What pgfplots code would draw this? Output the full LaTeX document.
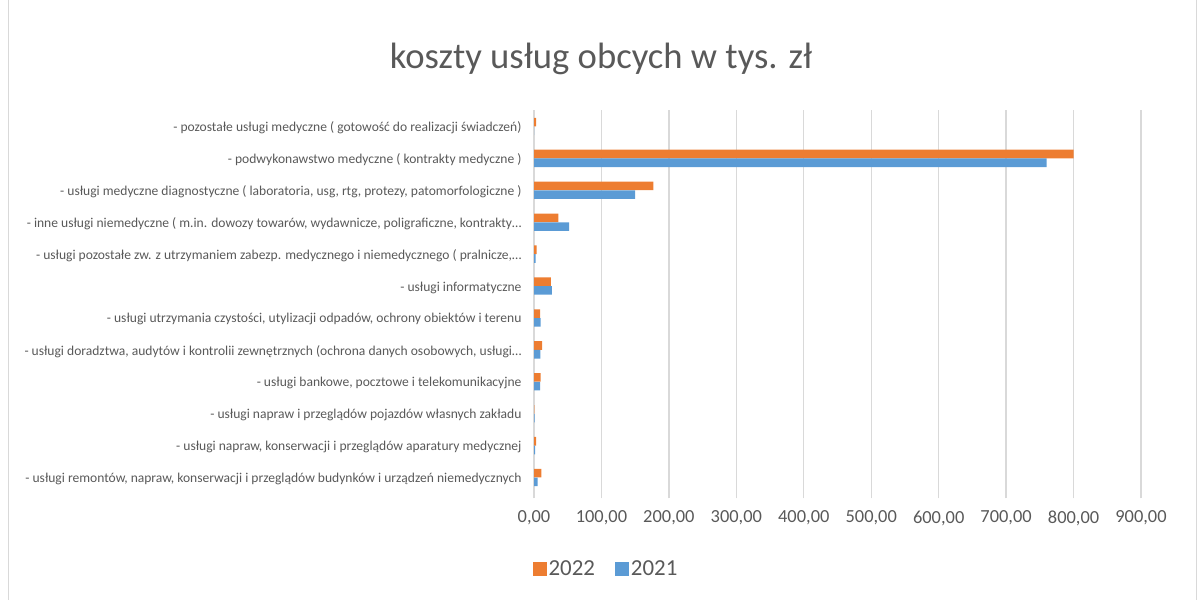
\documentclass[border=0pt]{standalone}
\usepackage{fontspec}
\setmainfont{Carlito}
\usepackage{pgfplots}
\pgfplotsset{compat=1.18}
\definecolor{cOr}{HTML}{ED7D31}
\definecolor{cBl}{HTML}{5B9BD5}
\definecolor{cTx}{HTML}{595959}
\definecolor{cGr}{HTML}{D9D9D9}
\begin{document}
\begin{tikzpicture}
\path (0,0) rectangle (1202bp,599bp);
\draw[cGr, line width=1bp] (8bp,0) -- (8bp,599bp);
\draw[cGr, line width=1bp] (1196bp,0) -- (1196bp,599bp);
\node[font=\fontsize{36.8}{40}\selectfont, text=cTx] at (601bp,541bp) {koszty usług obcych w tys. zł};
\begin{axis}[
  at={(534bp,106bp)}, anchor=south west,
  scale only axis, width=607bp, height=383bp,
  xbar, bar width=8.6bp,
  xmin=0, xmax=900, ymin=-0.5, ymax=11.5,
  xtick={0,100,...,900},
  ytick={0,...,11},
  yticklabels={
    {- usługi remontów, napraw, konserwacji i przeglądów budynków i urządzeń niemedycznych},
    {- usługi napraw, konserwacji i przeglądów aparatury medycznej},
    {- usługi napraw i przeglądów pojazdów własnych zakładu},
    {- usługi bankowe, pocztowe i telekomunikacyjne},
    {- usługi doradztwa, audytów i kontrolii zewnętrznych (ochrona danych osobowych, usługi…},
    {- usługi utrzymania czystości, utylizacji odpadów, ochrony obiektów i terenu},
    {- usługi informatyczne},
    {- usługi pozostałe zw. z utrzymaniem zabezp. medycznego i niemedycznego ( pralnicze,…},
    {- inne usługi niemedyczne ( m.in. dowozy towarów, wydawnicze, poligraficzne, kontrakty…},
    {- usługi medyczne diagnostyczne ( laboratoria, usg, rtg, protezy, patomorfologiczne )},
    {- podwykonawstwo medyczne ( kontrakty medyczne )},
    {- pozostałe usługi medyczne ( gotowość do realizacji świadczeń)}
  },
  yticklabel style={font=\fontsize{13.6}{15}\selectfont, text=cTx, xshift=-4bp, yshift=-1.5bp},
  ytick style={draw=none},
  xticklabel style={font=\fontsize{18.5}{20}\selectfont, text=cTx, yshift=-9bp},
  /pgf/number format/.cd, fixed, fixed zerofill, precision=2, use comma, 1000 sep={}, assume math mode=true, /pgfplots/.cd,
  xtick pos=bottom, tick align=outside, major tick length=5bp,
  x tick style={cGr, line width=1.3bp},
  xmajorgrids, grid style={cGr, line width=1.3bp},
  axis line style={draw=none},
  legend style={at={(0.1186,-0.196)}, anchor=center, draw=none, fill=none,
    legend columns=2, font=\fontsize{23}{26}\selectfont, text=cTx,
    /tikz/every even column/.append style={column sep=18bp}},
  legend image code/.code={\fill[#1] (0bp,-7bp) rectangle (14bp,7bp);},
]
\addplot[fill=cOr, draw=none, bar shift=4.35bp] coordinates {
(11,0) (3,1) (0.5,2) (10,3) (12,4) (9,5) (25,6) (4,7) (36,8) (177,9) (800,10) (3,11)};
\addlegendentry{2022}
\addplot[fill=cBl, draw=none, bar shift=-4.35bp] coordinates {
(5.5,0) (1.5,1) (1,2) (9,3) (9.5,4) (10,5) (26.5,6) (2.5,7) (52,8) (150,9) (760,10) (0,11)};
\addlegendentry{2021}
\end{axis}
\end{tikzpicture}
\end{document}
